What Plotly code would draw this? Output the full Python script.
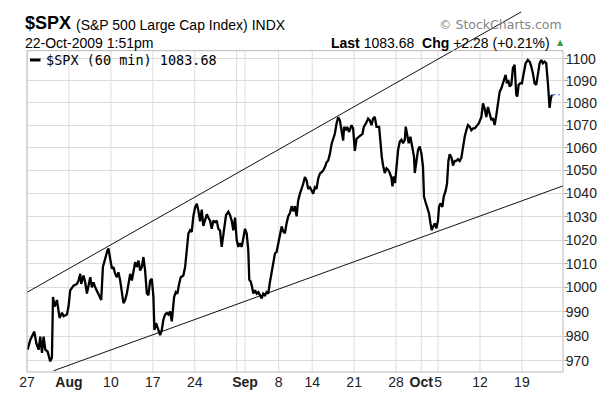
import math
import plotly.graph_objects as go

# ---------------- data ----------------
# x = trading-day index (0 = Mon 27 Jul 2009), fractional part = time of day
bar_day_jul_aug = [0.07, 0.39, 0.87, 1.11, 1.38, 1.58, 1.79, 1.98, 2.18, 2.45,
                   2.77, 2.97, 3.10, 3.29, 3.57, 3.88, 4.17, 4.36, 4.76, 4.95,
                   5.15, 5.55, 5.95, 6.14, 6.35, 6.46, 6.74, 6.94, 7.14, 7.33,
                   7.54, 7.74, 7.93, 8.13, 8.40, 8.73, 8.85, 9.05, 9.32, 9.60,
                   9.71, 9.92, 10.12, 10.31, 10.51, 10.71, 10.90, 11.11, 11.31, 11.50,
                   11.70, 11.90, 12.10, 12.30, 12.50, 12.69, 12.89, 13.10, 13.29, 13.49,
                   13.69, 13.88, 14.08, 14.29, 14.48, 14.68, 14.88, 15.07, 15.19, 15.39,
                   15.55, 15.75, 15.87, 16.07, 16.26, 16.46, 16.67, 16.86, 17.06, 17.26,
                   17.38, 17.54, 17.74, 17.93, 18.13, 18.33, 18.64, 18.85, 19.05, 19.24,
                   19.44, 19.64, 19.83]
close_jul_aug = [974.4, 978.4, 981.8, 977.1, 974.4, 979.7, 973.1, 979.7, 974.4, 973.7,
                 969.7, 971.2, 996.1, 992.1, 994.8, 987.4, 989.5, 988.1, 988.8, 992.1,
                 998.8, 1000.8, 1001.5, 1002.9, 1005.7, 1001.5, 1005.0, 1002.2, 997.5, 1001.5,
                 1004.3, 1000.1, 1002.2, 1000.1, 998.1, 996.1, 994.8, 1008.6, 1012.7, 1015.7,
                 1016.4, 1012.8, 1007.9, 1008.6, 1005.7, 1004.3, 1006.4, 1002.9, 997.5, 993.5,
                 994.8, 997.5, 1001.5, 1005.7, 1002.9, 1007.1, 1010.6, 1008.6, 1011.3, 1007.1,
                 1008.6, 1012.8, 1007.1, 997.5, 996.8, 1002.9, 1003.6, 996.1, 982.5, 985.3,
                 983.9, 981.8, 980.4, 982.5, 986.7, 988.8, 989.5, 988.8, 990.1, 986.0,
                 990.8, 996.1, 998.1, 997.5, 1001.5, 1004.3, 1005.0, 1008.6, 1015.7, 1022.8,
                 1024.2, 1023.5, 1030.1]

bar_day_aug_sep = [20.04, 20.24, 20.43, 20.63, 20.83, 21.02, 21.23, 21.43, 21.63, 21.82,
                   22.02, 22.21, 22.42, 22.62, 22.81, 23.01, 23.21, 23.40, 23.73, 24.00,
                   24.20, 24.40, 24.60, 24.80, 25.00, 25.19, 25.39, 25.60, 25.79, 25.99,
                   26.19, 26.38, 26.50, 26.67, 26.82, 26.98, 27.18, 27.38, 27.57, 27.77,
                   27.98, 28.17, 28.37, 28.57, 28.76, 28.96, 29.17, 29.36, 29.56, 29.76,
                   29.95, 30.15, 30.36, 30.55, 30.75, 30.95, 31.14, 31.35, 31.55, 31.74,
                   31.94, 32.14, 32.33, 32.54, 32.74, 32.93, 33.13, 33.33, 33.52, 33.73,
                   33.93, 34.12, 34.32, 34.52, 34.71, 34.92, 35.12, 35.31, 35.51, 35.71,
                   35.90, 36.11, 36.31, 36.50, 36.70, 36.90, 37.10, 37.30, 37.50, 37.69,
                   37.81, 38.01, 38.17, 38.40, 38.69, 38.88, 39.08, 39.29, 39.48, 39.76,
                   40.00, 40.15, 40.39, 40.67, 40.87, 41.07, 41.26, 41.46, 41.67]
close_aug_sep = [1034.0, 1035.5, 1032.6, 1028.0, 1033.0, 1026.0, 1029.0, 1031.0, 1029.5, 1028.3,
                 1024.8, 1028.3, 1027.6, 1028.3, 1024.8, 1024.1, 1017.1, 1022.9, 1030.7, 1032.1,
                 1030.7, 1028.3, 1024.1, 1029.6, 1020.0, 1017.1, 1018.6, 1017.1, 1021.4, 1024.8,
                 1022.8, 1015.7, 1003.2, 1002.5, 1000.4, 997.5, 998.8, 997.5, 998.1, 996.8,
                 995.5, 997.5, 996.8, 998.1, 997.5, 1002.2, 1007.1, 1009.9, 1014.3, 1015.0,
                 1018.6, 1022.9, 1025.8, 1023.7, 1022.9, 1027.2, 1030.1, 1031.6, 1034.5, 1032.3,
                 1034.5, 1030.1, 1037.0, 1039.9, 1042.0, 1044.2, 1047.1, 1045.7, 1042.0, 1042.7,
                 1041.3, 1039.9, 1042.7, 1042.0, 1046.4, 1048.6, 1049.3, 1050.0, 1051.4, 1053.6,
                 1054.3, 1057.3, 1061.7, 1064.0, 1066.2, 1070.7, 1073.6, 1072.2, 1067.7, 1063.2,
                 1069.3, 1067.7, 1069.3, 1067.0, 1070.0, 1068.5, 1058.6, 1064.0, 1064.6, 1065.5,
                 1066.2, 1069.3, 1070.7, 1073.0, 1072.2, 1070.0, 1073.0, 1073.7, 1069.3]

bar_day_sep_oct = [41.98, 42.14, 42.30, 42.45, 42.65, 42.86, 43.05, 43.25, 43.45, 43.57,
                   43.73, 43.88, 44.05, 44.24, 44.44, 44.64, 44.83, 45.04, 45.15, 45.31,
                   45.51, 45.71, 45.95, 46.14, 46.23, 46.43, 46.62, 46.82, 47.02, 47.21,
                   47.33, 47.50, 47.69, 47.93, 48.10, 48.25, 48.40, 48.61, 48.81, 49.00,
                   49.12, 49.29, 49.52, 49.68, 49.92, 50.07, 50.24, 50.39, 50.60, 50.79,
                   50.99, 51.19, 51.38, 51.58, 51.79, 51.98, 52.18, 52.38, 52.57, 52.77,
                   52.98, 53.17, 53.37, 53.56, 53.87, 54.17, 54.36, 54.56, 54.76, 54.95,
                   55.15, 55.36, 55.55, 55.75, 55.95, 56.14, 56.35, 56.55, 56.74, 56.94,
                   57.06, 57.21, 57.38, 57.54, 57.74, 57.93, 58.13, 58.33, 58.45, 58.61,
                   58.81, 59.00, 59.20, 59.44, 59.71, 59.92, 60.12, 60.31, 60.51, 60.71,
                   60.90, 61.11, 61.31, 61.50, 61.70, 61.90, 62.10, 62.30, 62.42, 62.57]
close_sep_oct = [1069.3, 1061.7, 1055.8, 1052.2, 1048.9, 1051.0, 1050.3, 1048.9, 1046.7, 1043.1,
                 1047.4, 1044.5, 1051.6, 1059.1, 1062.7, 1063.5, 1062.0, 1063.5, 1069.4, 1066.5,
                 1062.0, 1064.9, 1060.5, 1056.0, 1048.9, 1053.2, 1059.1, 1060.5, 1057.5, 1051.6,
                 1038.6, 1036.4, 1034.2, 1031.4, 1027.1, 1024.2, 1025.6, 1027.1, 1025.0, 1028.5,
                 1034.2, 1035.7, 1034.2, 1038.6, 1041.3, 1044.2, 1054.2, 1057.1, 1055.7, 1052.2,
                 1054.2, 1054.2, 1055.0, 1054.2, 1055.7, 1060.5, 1064.9, 1067.8, 1070.1, 1069.4,
                 1067.8, 1068.6, 1068.6, 1069.4, 1070.9, 1073.7, 1079.8, 1077.4, 1073.7, 1078.2,
                 1075.3, 1072.3, 1073.1, 1070.1, 1074.5, 1079.8, 1085.0, 1086.6, 1088.9, 1090.4,
                 1092.7, 1088.9, 1090.4, 1087.4, 1088.2, 1095.8, 1097.3, 1083.7, 1082.9, 1088.2,
                 1088.9, 1088.9, 1093.5, 1098.0, 1099.5, 1098.8, 1096.5, 1093.5, 1088.9, 1088.2,
                 1092.7, 1098.0, 1099.5, 1098.0, 1098.8, 1098.0, 1088.9, 1077.8, 1081.4, 1083.68]

prev_close = 1081.40

# channel lines: two anchor points each (trading-day index, price)
upper_line_day = [0.0, 58.93]
upper_line_price = [998.0, 1121.8]
lower_line_day = [3.17, 64.6]
lower_line_price = [965.9, 1044.2]

# axis ticks
x_tick_day = [0, 5, 10, 15, 20, 26, 30, 34, 39, 44, 47, 49, 54, 59]
x_tick_text = ["27", "<b>Aug</b>", "10", "17", "24", "<b>Sep</b>", "8", "14", "21",
               "28", "<b>Oct</b>", "5", "12", "19"]
x_grid_day = [0, 5, 10, 15, 20, 25, 26, 30, 34, 39, 44, 47, 49, 54, 59]
y_tick_price = [970, 980, 990, 1000, 1010, 1020, 1030, 1040, 1050, 1060, 1070, 1080, 1090, 1100]

# ---------------- assemble ----------------
days = bar_day_jul_aug + bar_day_aug_sep + bar_day_sep_oct
closes = close_jul_aug + close_aug_sep + close_sep_oct
assert len(days) == len(closes)
last = closes[-1]
chg = last - prev_close
pct = chg / prev_close * 100

# the page body has an 8px default margin, so the figure is drawn 8px in from the
# window's top-left corner; size and position everything in window pixels.
PAGE = 8
WIN_W, WIN_H = 608, 398
W, H = WIN_W - PAGE, WIN_H - PAGE
SL, SR, ST, SB = 27, 563, PAGE, 372          # plot area in window pixels
ML, MR, MT, MB = SL - PAGE, W - (SR - PAGE), ST - PAGE, H - (SB - PAGE)

X_RANGE = [0, 63.9]
Y_BOTTOM, Y_FRAME_TOP, Y_AXIS_TOP = 965.4, 1103.8, 1123.6
ylo, yhi = math.log10(Y_BOTTOM), math.log10(Y_AXIS_TOP)
frame_top = (math.log10(Y_FRAME_TOP) - ylo) / (yhi - ylo)


def fx(px):
    return (px - SL) / (SR - SL)


def fy(py):
    return (SB - py) / (SB - ST)


ARIAL = "Arial, Liberation Sans, sans-serif"
GRID = "#dcdcdc"

fig = go.Figure()
fig.add_trace(go.Scatter(x=upper_line_day, y=upper_line_price, mode="lines",
                         line=dict(color="#111111", width=1), hoverinfo="skip"))
fig.add_trace(go.Scatter(x=lower_line_day, y=lower_line_price, mode="lines",
                         line=dict(color="#111111", width=1), hoverinfo="skip"))
fig.add_trace(go.Scatter(x=days, y=closes, mode="lines",
                         line=dict(color="black", width=2.3), hoverinfo="skip"))
fig.add_trace(go.Scatter(x=[days[-1] + 0.05, days[-1] + 0.95], y=[last, last], mode="lines",
                         line=dict(color="#1f3fff", width=1, dash="3px,3px"), hoverinfo="skip"))

shapes = []
for gd in x_grid_day:
    shapes.append(dict(type="line", xref="x", yref="paper", x0=gd, x1=gd, y0=0, y1=frame_top,
                       line=dict(color=GRID, width=1), layer="below"))
shapes.append(dict(type="rect", xref="paper", yref="paper", x0=0, x1=1, y0=0, y1=frame_top,
                   line=dict(color="#b8b8b8", width=1), fillcolor="rgba(0,0,0,0)", layer="above"))
# legend key (short thick line)
shapes.append(dict(type="line", xref="paper", yref="paper", x0=fx(30), x1=fx(40.5),
                   y0=fy(60), y1=fy(60), line=dict(color="black", width=3), layer="above"))

annotations = [
    dict(text="<b>$SPX</b>", x=fx(23), y=fy(23.5), xanchor="left", yanchor="middle",
         font=dict(family=ARIAL, size=18, color="black")),
    dict(text="(S&amp;P 500 Large Cap Index) INDX", x=fx(74), y=fy(25), xanchor="left",
         yanchor="middle", font=dict(family=ARIAL, size=14, color="black")),
    dict(text="22-Oct-2009 1:51pm", x=fx(23), y=fy(43), xanchor="left", yanchor="middle",
         font=dict(family=ARIAL, size=14, color="black")),
    dict(text=f"<b>Last</b> {last:.2f}&nbsp; <b>Chg</b> {chg:+.2f} ({pct:+.2f}%)",
         x=fx(552), y=fy(43), xanchor="right", yanchor="middle",
         font=dict(family=ARIAL, size=14, color="black")),
    dict(text="▲", x=fx(560), y=fy(42), xanchor="center", yanchor="middle",
         font=dict(family="DejaVu Sans", size=8, color="#3c9a3c")),
    dict(text="© StockCharts.com", x=fx(564), y=fy(25), xanchor="right", yanchor="middle",
         font=dict(family="DejaVu Sans", size=12.5, color="#858585")),
    dict(text=f"$SPX (60 min) {last:.2f}", x=fx(44), y=fy(60), xanchor="left",
         yanchor="middle", font=dict(family="DejaVu Sans Mono", size=13.5, color="black")),
]
for a in annotations:
    a.update(xref="paper", yref="paper", showarrow=False)

fig.update_layout(
    template="none",
    width=W, height=H,
    margin=dict(l=ML, r=MR, t=MT, b=MB, pad=0, autoexpand=False),
    paper_bgcolor="white", plot_bgcolor="white",
    showlegend=False,
    shapes=shapes,
    annotations=annotations,
    xaxis=dict(range=X_RANGE, showgrid=False, zeroline=False, showline=False,
               tickmode="array", tickvals=x_tick_day, ticktext=x_tick_text, ticks="",
               tickangle=0, automargin=False,
               tickfont=dict(family=ARIAL, size=14, color="#222222"), fixedrange=True),
    yaxis=dict(type="log", side="right", range=[ylo, yhi], showgrid=True, gridcolor=GRID,
               gridwidth=1, zeroline=False, showline=False, automargin=False,
               tickmode="array", tickvals=y_tick_price, ticktext=[str(v) for v in y_tick_price],
               ticks="outside", ticklen=4, tickcolor="#aaaaaa", ticklabelstandoff=-5,
               tickfont=dict(family=ARIAL, size=14, color="#222222"), fixedrange=True),
)

fig.write_html("out.html")
